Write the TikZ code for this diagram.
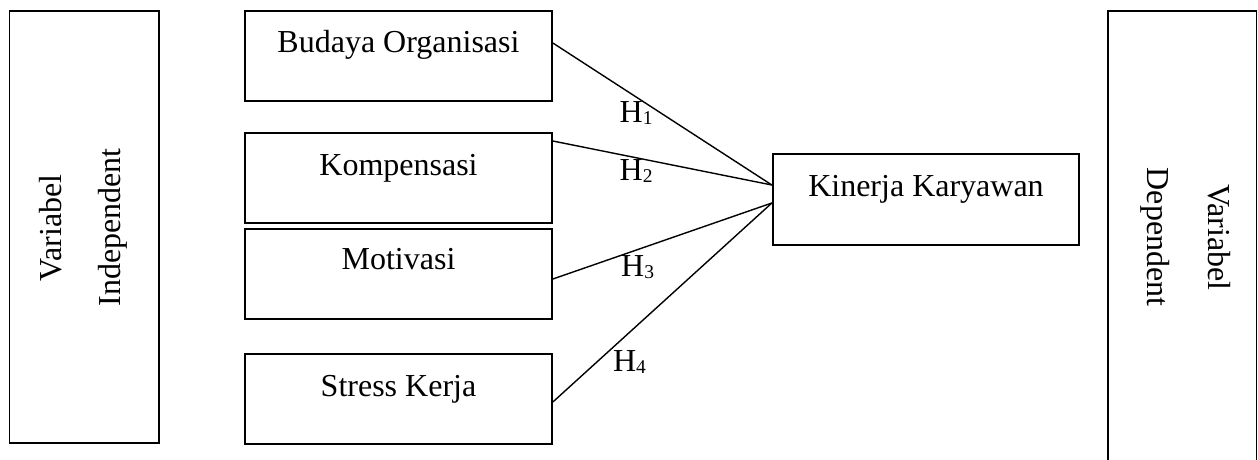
\documentclass[tikz,border=0pt]{standalone}
\usepackage{fontspec}
\setmainfont{Liberation Serif}
\newcommand\hsubnum[1]{\raisebox{-2pt}{\fontsize{19.5}{19.5}\selectfont #1}}
\begin{document}
\begin{tikzpicture}[x=1pt,y=-1pt]
\tikzset{
 box/.style={draw, line width=1.7pt, rectangle, inner sep=0pt, minimum width=307pt},
 txt/.style={anchor=base, inner sep=0pt, font=\fontsize{32}{38}\selectfont},
 link/.style={line width=1.4pt},
 hyp/.style={anchor=base west, inner sep=0pt, font=\fontsize{32}{38}\selectfont}
}
\useasboundingbox (0,0) rectangle (1258,459);
\clip (0,0) rectangle (1258,459);
% outer variable boxes
\node[box, minimum width=149.7pt, minimum height=432pt] (iv) at (84.2,226.7) {};
\node[box, minimum width=148.5pt, minimum height=480pt] (dv) at (1182.25,250.7) {};
% independent variable boxes
\node[box, minimum height=90pt] (bo) at (398.5,55.7) {};
\node[box, minimum height=89.5pt] (ko) at (398.5,178) {};
\node[box, minimum height=90.5pt] (mo) at (398.5,274) {};
\node[box, minimum height=90pt] (sk) at (398.5,399) {};
% dependent box
\node[box, minimum width=306.6pt, minimum height=91pt] (kk) at (926,199.5) {};
% texts
\node[txt] (bot) at (398.5,52.3) {Budaya Organisasi};
\node[txt] (kot) at (398.5,175) {Kompensasi};
\node[txt] (mot) at (398.5,269) {Motivasi};
\node[txt] (skt) at (398.5,396) {Stress Kerja};
\node[txt] (kkt) at (926,196) {Kinerja Karyawan};
\node[txt, rotate=90] (iv1) at (61.5,228) {Variabel};
\node[txt, rotate=90] (iv2) at (120.5,227.5) {Independent};
\node[txt, rotate=-90] (dv1) at (1208,237.5) {Variabel};
\node[txt, rotate=-90] (dv2) at (1147,237) {Dependent};
% connectors
\draw[link] ([yshift=12.7pt]bo.east) -- ([yshift=14.5pt]kk.west);
\draw[link] ([yshift=37pt]ko.east) -- ([yshift=14.5pt]kk.west);
\draw[link] ([yshift=-5pt]mo.east) -- ([yshift=-3.5pt]kk.west);
\draw[link] ([yshift=-3pt]sk.east) -- ([yshift=-3.5pt]kk.west);
% hypothesis labels
\node[hyp] (h1) at (619.5,122.3) {H\hsubnum{1}};
\node[hyp] (h2) at (619.5,180) {H\hsubnum{2}};
\node[hyp] (h3) at (621,276.7) {H\hsubnum{3}};
\node[hyp] (h4) at (612.8,371.7) {H\hsubnum{4}};
\end{tikzpicture}
\end{document}
